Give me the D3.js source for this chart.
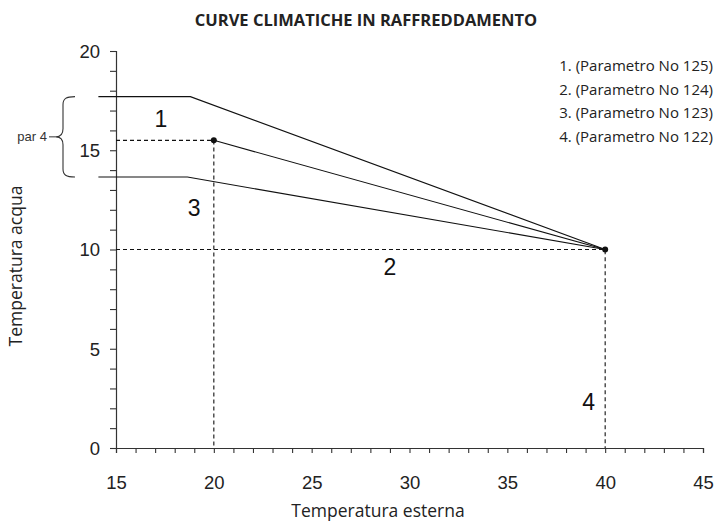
<!DOCTYPE html>
<html><head><meta charset="utf-8">
<script src="https://cdn.jsdelivr.net/npm/d3@7"></script>
<style>body{margin:0;background:#fff}</style>
</head><body>
<script>
const title = "CURVE CLIMATICHE IN RAFFREDDAMENTO";
const xTicks = [15,20,25,30,35,40,45];
const yTicks = [0,5,10,15,20];
const curve1 = [[14.1,17.7],[18.8,17.7],[40,10]];
const curve2 = [[20,15.5],[40,10]];
const curve3 = [[14.1,13.65],[18.65,13.65],[40,10]];
const dashed = [[[15,15.5],[20,15.5],[20,0]], [[15,10],[40,10],[40,0]]];
const dots = [[20,15.5],[40,10]];
const curveLabels = [["1",17.3,16.17],["3",19.0,11.7],["2",29.0,8.72],["4",39.15,1.9]];
const legend = ["1. (Parametro No 125)","2. (Parametro No 124)","3. (Parametro No 123)","4. (Parametro No 122)"];

const W=716,H=524;
const svg=d3.select("body").append("svg").attr("width",W).attr("height",H);
const x=d3.scaleLinear().domain([15,45]).range([116,703]);
const y=d3.scaleLinear().domain([0,20]).range([448,51]);

svg.append("text").attr("x",366).attr("y",26).attr("text-anchor","middle")
  .attr("font-family","Open Sans").attr("font-weight","bold").attr("font-size",16.5).attr("fill","#222").text(title);

// axes
const xa=svg.append("g").attr("transform","translate(0,448)")
  .call(d3.axisBottom(x).tickValues(d3.range(15,46,1)).tickSize(5).tickFormat(d=>xTicks.includes(d)?d:""));
xa.selectAll("text").attr("font-family","Liberation Sans").attr("font-size",18.5).attr("fill","#222").attr("y",41).attr("dy",0);
const ya=svg.append("g").attr("transform","translate(116,0)")
  .call(d3.axisLeft(y).tickValues(d3.range(0,21,1)).tickSize(6).tickFormat(d=>yTicks.includes(d)?d:""));
ya.selectAll("text").attr("font-family","Liberation Sans").attr("font-size",18.5).attr("fill","#222").attr("x",-16).attr("dy","0.35em");
svg.selectAll(".domain").attr("stroke","#333").attr("stroke-width",1.2);
svg.selectAll(".tick line").attr("stroke","#333").attr("stroke-width",1.1);

const line=d3.line().x(d=>x(d[0])).y(d=>y(d[1]));
dashed.forEach(p=>svg.append("path").attr("d",line(p)).attr("fill","none").attr("stroke","#111").attr("stroke-width",1.1).attr("stroke-dasharray","4,3"));
[curve1,curve2,curve3].forEach(p=>svg.append("path").attr("d",line(p)).attr("fill","none").attr("stroke","#111").attr("stroke-width",1.1));
svg.selectAll("circle.d").data(dots).join("circle").attr("cx",d=>x(d[0])).attr("cy",d=>y(d[1])).attr("r",3).attr("fill","#111");

svg.selectAll("text.cl").data(curveLabels).join("text").attr("x",d=>x(d[1])).attr("y",d=>y(d[2]))
  .attr("text-anchor","middle").attr("font-family","Liberation Sans").attr("font-size",23).attr("fill","#111").text(d=>d[0]);

svg.selectAll("text.lg").data(legend).join("text").attr("x",713).attr("y",(d,i)=>71+i*23.7)
  .attr("text-anchor","end").attr("font-family","Open Sans").attr("font-size",15).attr("fill","#222").text(d=>d);

// brace
const yt=y(17.7), yb=y(13.65), ym=(yt+yb)/2;
svg.append("path").attr("d",`M75,${yt} C66,${yt} 63,${yt+2} 63,${yt+8} L63,${ym-8} C63,${ym-3} 61,${ym} 56,${ym} C61,${ym} 63,${ym+3} 63,${ym+8} L63,${yb-8} C63,${yb-2} 66,${yb} 75,${yb}`)
  .attr("fill","none").attr("stroke","#333").attr("stroke-width",1.1);
svg.append("line").attr("x1",49).attr("x2",56).attr("y1",ym).attr("y2",ym).attr("stroke","#333");
svg.append("text").attr("x",47).attr("y",ym+4.5).attr("text-anchor","end").attr("font-family","Liberation Sans").attr("font-size",13).attr("fill","#333").text("par 4");

svg.append("text").attr("transform","translate(22,266) rotate(-90)").attr("text-anchor","middle")
  .attr("font-family","Open Sans").attr("font-size",17.5).attr("fill","#222").text("Temperatura acqua");
svg.append("text").attr("x",378).attr("y",517).attr("text-anchor","middle")
  .attr("font-family","Open Sans").attr("font-size",17.5).attr("fill","#222").text("Temperatura esterna");
</script>
</body></html>
